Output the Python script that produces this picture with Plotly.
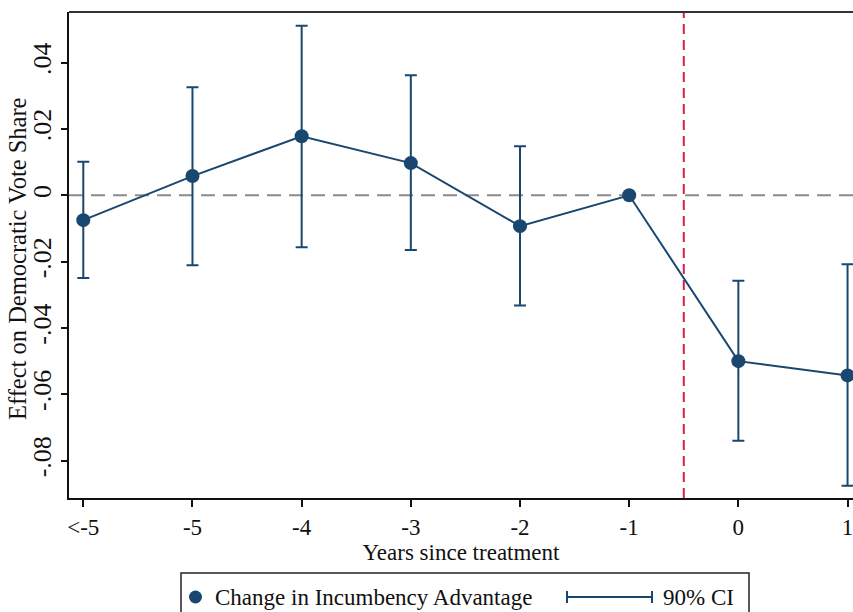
import plotly.graph_objects as go

# ---- data ----
categories = ["<-5", "-5", "-4", "-3", "-2", "-1", "0", "1"]
estimate = [-0.0075, 0.0058, 0.0178, 0.0097, -0.0093, 0.0, -0.0500, -0.0543]
ci_low = [-0.0249, -0.0211, -0.0157, -0.0165, -0.0332, None, -0.0740, -0.0876]
ci_high = [0.0101, 0.0326, 0.0511, 0.0362, 0.0148, None, -0.0258, -0.0208]
y_ticks = [-0.08, -0.06, -0.04, -0.02, 0, 0.02, 0.04]
y_tick_text = ["-.08", "-.06", "-.04", "-.02", "0", ".02", ".04"]
treatment_cut = 5.5  # between "-1" and "0"

NAVY = "#1a476f"
RED = "#dc1e4a"
FONT = "Liberation Serif"
HSIZE = 23     # horizontal texts
VTICK = 26     # rotated tick labels
VTITLE = 24.5  # rotated axis title

W, H = 853, 612
ML, MR, MT, MB = 69, 0, 12, 114

pos = list(range(len(categories)))
ci_idx = [i for i in pos if ci_low[i] is not None]
ci_x = [pos[i] for i in ci_idx]
ci_y = [estimate[i] for i in ci_idx]
ci_plus = [ci_high[i] - estimate[i] for i in ci_idx]
ci_minus = [estimate[i] - ci_low[i] for i in ci_idx]

fig = go.Figure()

# CI error bars
fig.add_trace(go.Scatter(
    x=ci_x, y=ci_y, mode="markers",
    marker=dict(size=2, color=NAVY, opacity=0),
    error_y=dict(type="data", symmetric=False, array=ci_plus, arrayminus=ci_minus,
                 color=NAVY, thickness=2, width=6),
    showlegend=False, hoverinfo="skip", cliponaxis=False,
))

# point estimates
fig.add_trace(go.Scatter(
    x=pos, y=estimate, mode="lines+markers",
    line=dict(color=NAVY, width=2),
    marker=dict(size=14, color=NAVY),
    showlegend=False, cliponaxis=False,
))

pw = W - ML - MR
ph = H - MT - MB


def px_x(v):
    return (v - ML) / pw


def px_y(v):
    return (H - MB - v) / ph


shapes = [
    # zero reference line
    dict(type="line", xref="paper", x0=0, x1=1, yref="y", y0=0, y1=0,
         line=dict(color="#8c8c8c", width=2, dash="14px,8px"), layer="below"),
    # treatment cut
    dict(type="line", xref="x", x0=treatment_cut, x1=treatment_cut, yref="paper", y0=0, y1=1,
         line=dict(color=RED, width=2, dash="10px,6px"), layer="below"),
    # top frame line
    dict(type="line", xref="paper", x0=0, x1=1, yref="paper", y0=1, y1=1,
         line=dict(color="#333333", width=2)),
    # legend box
    dict(type="rect", xref="paper", yref="paper",
         x0=px_x(181), x1=px_x(749), y0=px_y(630), y1=px_y(573),
         line=dict(color="#222222", width=1.5), fillcolor="white"),
    # legend marker
    dict(type="circle", xref="paper", yref="paper",
         x0=px_x(189), x1=px_x(202), y0=px_y(603.5), y1=px_y(590.5),
         line=dict(color=NAVY, width=0), fillcolor=NAVY),
    # legend CI symbol
    dict(type="line", xref="paper", yref="paper",
         x0=px_x(567), x1=px_x(652), y0=px_y(597), y1=px_y(597),
         line=dict(color=NAVY, width=2)),
    dict(type="line", xref="paper", yref="paper",
         x0=px_x(567), x1=px_x(567), y0=px_y(591), y1=px_y(603),
         line=dict(color=NAVY, width=2)),
    dict(type="line", xref="paper", yref="paper",
         x0=px_x(652), x1=px_x(652), y0=px_y(591), y1=px_y(603),
         line=dict(color=NAVY, width=2)),
]

annotations = [
    # y-axis title
    dict(text="Effect on Democratic Vote Share", xref="paper", yref="paper",
         x=px_x(17), y=px_y(259), xanchor="center", yanchor="middle", textangle=-90,
         showarrow=False, font=dict(family=FONT, size=VTITLE, color="#111111")),
    # legend texts
    dict(text="Change in Incumbency Advantage", xref="paper", yref="paper",
         x=px_x(213), y=px_y(597), xanchor="left", yanchor="middle", showarrow=False,
         font=dict(family=FONT, size=HSIZE, color="#111111")),
    dict(text="90% CI", xref="paper", yref="paper",
         x=px_x(661), y=px_y(597), xanchor="left", yanchor="middle", showarrow=False,
         font=dict(family=FONT, size=HSIZE, color="#111111")),
]

fig.update_layout(
    width=W, height=H,
    margin=dict(l=ML, r=MR, t=MT, b=MB, pad=0),
    paper_bgcolor="white", plot_bgcolor="white",
    font=dict(family=FONT, size=HSIZE, color="#111111"),
    shapes=shapes, annotations=annotations,
    showlegend=False,
)

fig.update_xaxes(
    range=[-0.131, 7.05],
    tickmode="array", tickvals=pos, ticktext=categories,
    ticks="outside", ticklen=7, tickwidth=1.5, tickcolor="#111111",
    ticklabeloverflow="allow",
    showline=True, linecolor="#111111", linewidth=2, mirror=False,
    showgrid=False, zeroline=False,
    title=dict(text="Years since treatment", standoff=0, font=dict(family=FONT, size=HSIZE)),
    tickfont=dict(family=FONT, size=HSIZE),
)

fig.update_yaxes(
    range=[-0.09126, 0.05526],
    tickmode="array", tickvals=y_ticks, ticktext=y_tick_text,
    tickangle=-90,
    ticks="outside", ticklen=6, tickwidth=1.5, tickcolor="#111111",
    showline=True, linecolor="#111111", linewidth=2, mirror=False,
    showgrid=False, zeroline=False,
    tickfont=dict(family=FONT, size=VTICK),
)

fig.write_html(
    "out.html",
    config={"displayModeBar": False},
    post_script="document.body.style.margin='0';document.body.style.overflow='hidden';",
)
